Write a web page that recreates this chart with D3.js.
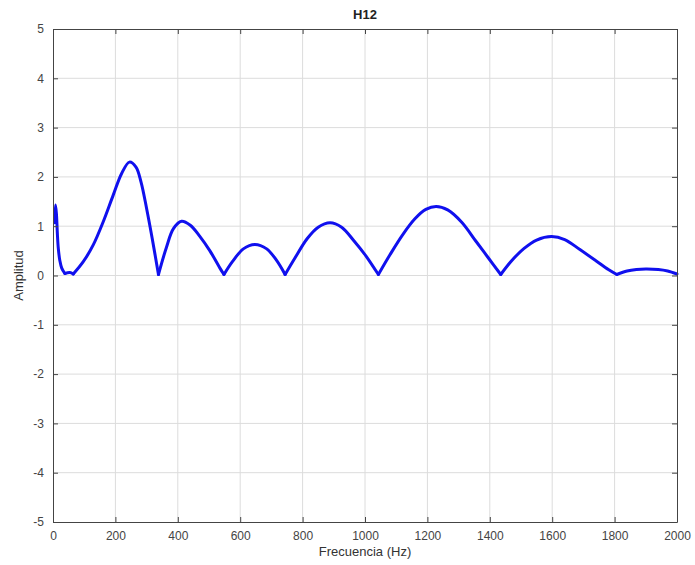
<!DOCTYPE html>
<html>
<head>
<meta charset="utf-8">
<script src="https://cdn.jsdelivr.net/npm/d3@7"></script>
<style>
  body { margin: 0; background: #fff; }
  svg { display: block; font-family: "Liberation Sans", Arial, sans-serif; }
  .grid line { stroke: #dcdcdc; stroke-width: 1; }
  .axis path, .axis line { stroke: #444; }
  .axis text { fill: #444; font-size: 12px; }
</style>
</head>
<body>
<svg id="chart" width="695" height="565"></svg>
<script>
const title = 'H12';
const xLabel = 'Frecuencia (Hz)';
const yLabel = 'Amplitud';
const xTicks = [0, 200, 400, 600, 800, 1000, 1200, 1400, 1600, 1800, 2000];
const yTicks = [-5, -4, -3, -2, -1, 0, 1, 2, 3, 4, 5];

const freq = [5, 8, 11, 14, 17, 22, 28, 38, 54, 65, 97, 129, 161, 193, 220, 245, 266, 282, 300, 318, 338,
  364, 386, 412, 440, 470, 503, 535, 548, 575, 610, 647, 685, 715, 744,
  775, 815, 850, 888, 925, 965, 1005, 1043,
  1080, 1120, 1160, 1195, 1228, 1265, 1310, 1355, 1395, 1435,
  1470, 1510, 1550, 1598, 1640, 1690, 1740, 1780, 1807,
  1840, 1870, 1900, 1940, 1970, 2000];
const amp = [1.07, 1.43, 1.25, 0.85, 0.55, 0.3, 0.15, 0.04, 0.06, 0.03, 0.28, 0.62, 1.09, 1.63, 2.07, 2.30, 2.20, 1.90, 1.36, 0.75, 0.02,
  0.58, 0.95, 1.10, 1.02, 0.80, 0.50, 0.15, 0.02, 0.28, 0.54, 0.63, 0.54, 0.32, 0.02,
  0.35, 0.75, 0.98, 1.07, 0.98, 0.70, 0.38, 0.02,
  0.42, 0.82, 1.15, 1.34, 1.40, 1.33, 1.08, 0.70, 0.36, 0.02,
  0.30, 0.55, 0.72, 0.79, 0.73, 0.52, 0.30, 0.12, 0.02,
  0.09, 0.12, 0.13, 0.12, 0.09, 0.03];

const svg = d3.select('#chart');
const m = {left: 53, top: 29, right: 677, bottom: 522};

let x = d3.scaleLinear().domain([0, 2000]).range([m.left, m.right]);
let y = d3.scaleLinear().domain([-5, 5]).range([m.bottom, m.top]);

// grid
const grid = svg.append('g').attr('class', 'grid');
grid.selectAll('.gx').data(xTicks.slice(1, -1)).join('line')
  .attr('x1', d => x(d)).attr('x2', d => x(d)).attr('y1', m.top).attr('y2', m.bottom);
grid.selectAll('.gy').data(yTicks.slice(1, -1)).join('line')
  .attr('x1', m.left).attr('x2', m.right).attr('y1', d => y(d)).attr('y2', d => y(d));

// curve, split at the sharp minima
const pts = freq.map((f, i) => ({x: f, y: amp[i]}));
let cuts = [0];
for (let i = 1; i < pts.length - 1; i++) {
  if (pts[i].y < pts[i - 1].y && pts[i].y < pts[i + 1].y) cuts.push(i);
}
cuts.push(pts.length - 1);
let line = d3.line().x(d => x(d.x)).y(d => y(d.y)).curve(d3.curveCatmullRom.alpha(0.5));
for (let k = 0; k < cuts.length - 1; k++) {
  svg.append('path')
    .datum(pts.slice(cuts[k], cuts[k + 1] + 1))
    .attr('fill', 'none')
    .attr('stroke', '#1010ee')
    .attr('stroke-width', 3)
    .attr('stroke-linejoin', 'round')
    .attr('stroke-linecap', 'round')
    .attr('d', line);
}

// axes with inward ticks on all four sides
const fmt = d => String(d);
svg.append('g').attr('class', 'axis')
  .attr('transform', `translate(0,${m.bottom})`)
  .call(d3.axisBottom(x).tickValues(xTicks).tickFormat(fmt).tickSizeInner(-5).tickSizeOuter(0).tickPadding(9));
svg.append('g').attr('class', 'axis')
  .attr('transform', `translate(${m.left},0)`)
  .call(d3.axisLeft(y).tickValues(yTicks).tickFormat(fmt).tickSizeInner(-5).tickSizeOuter(0).tickPadding(9));
svg.append('g').attr('class', 'axis')
  .attr('transform', `translate(0,${m.top})`)
  .call(d3.axisTop(x).tickValues(xTicks).tickSizeInner(-5).tickSizeOuter(0).tickFormat(''));
svg.append('g').attr('class', 'axis')
  .attr('transform', `translate(${m.right},0)`)
  .call(d3.axisRight(y).tickValues(yTicks).tickSizeInner(-5).tickSizeOuter(0).tickFormat(''));

// labels
svg.append('text')
  .attr('x', (m.left + m.right) / 2).attr('y', 19)
  .attr('text-anchor', 'middle')
  .attr('font-size', 13).attr('font-weight', 'bold').attr('fill', '#222')
  .text(title);
svg.append('text')
  .attr('x', (m.left + m.right) / 2).attr('y', 556)
  .attr('text-anchor', 'middle')
  .attr('font-size', 13).attr('fill', '#333')
  .text(xLabel);
svg.append('text')
  .attr('transform', `translate(23,${(m.top + m.bottom) / 2}) rotate(-90)`)
  .attr('text-anchor', 'middle')
  .attr('font-size', 13).attr('fill', '#333')
  .text(yLabel);
</script>
</body>
</html>
